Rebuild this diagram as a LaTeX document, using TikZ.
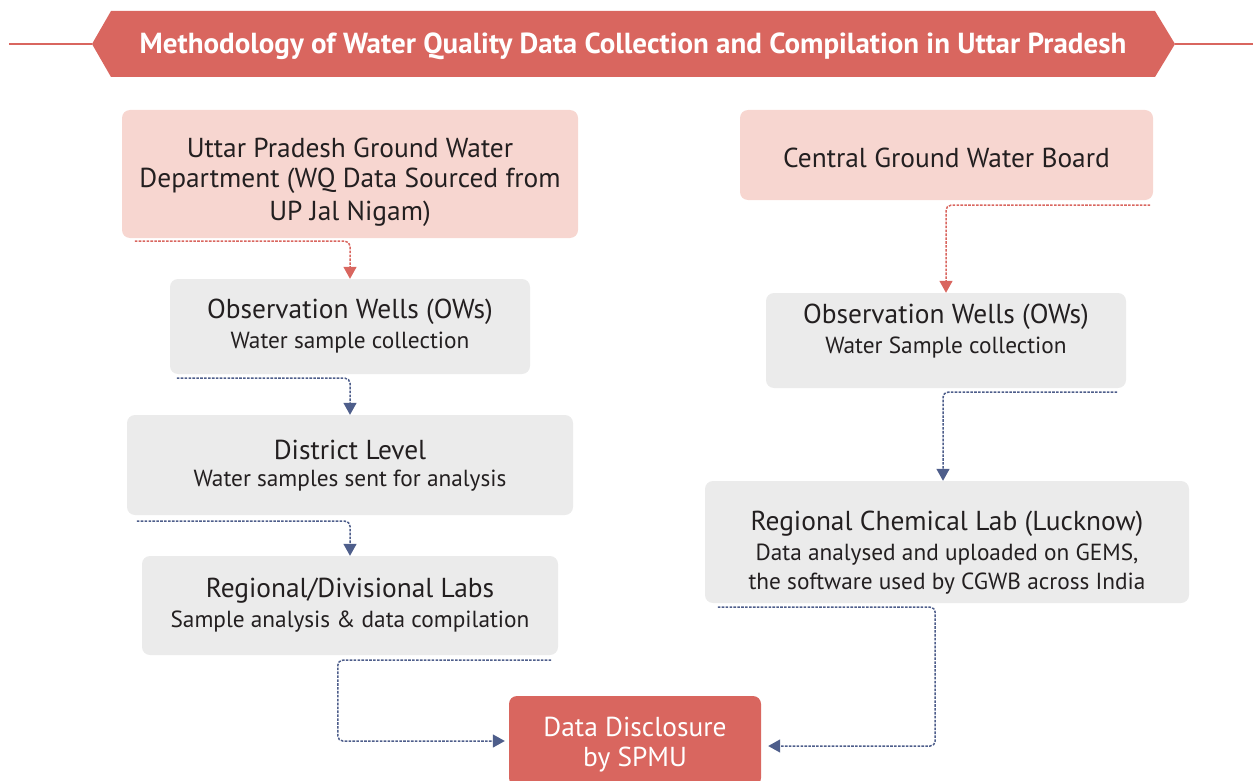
\documentclass[tikz,border=0pt]{standalone}
\usepackage{fontspec}
\setmainfont{PT Sans}
\usetikzlibrary{arrows.meta,calc}
\definecolor{redc}{HTML}{D9665F}
\definecolor{pinkc}{HTML}{F7D6D0}
\definecolor{grayc}{HTML}{EBEBEB}
\definecolor{bluec}{HTML}{4E5E8B}
\definecolor{txtc}{HTML}{231F20}
\tikzset{
  box/.style={rounded corners=8pt, inner sep=0pt},
  pinkbox/.style={box, fill=pinkc},
  graybox/.style={box, fill=grayc},
  big/.style={text=txtc, font=\fontsize{27.4}{32}\selectfont, inner sep=0pt, yshift=-2pt},
  small/.style={text=txtc, font=\fontsize{23.3}{27}\selectfont, inner sep=0pt, yshift=-2pt},
  conn/.style={line width=1.5pt, dash pattern=on 2.6pt off 1.3pt, rounded corners=5pt},
  redconn/.style={conn, draw=redc, -{Triangle[width=13pt,length=12pt,fill=redc]}},
  blueconn/.style={conn, draw=bluec, -{Triangle[width=13pt,length=12pt,fill=bluec]}},
}
\begin{document}
\begin{tikzpicture}[x=1pt,y=-1pt]
\useasboundingbox (0,0) rectangle (1253,781);
% banner
\draw[redc, line width=2pt] (9,44) -- (92,44);
\draw[redc, line width=2pt] (1175,44) -- (1253,44);
\fill[redc] (111,11) -- (1155,11) -- (1175,44) -- (1155,77) -- (111,77) -- (92,44) -- cycle;
\node[text=white, font=\bfseries\fontsize{29}{32}\selectfont, inner sep=0pt] (title) at (633,46)
  {Methodology of Water Quality Data Collection and Compilation in Uttar Pradesh};
% boxes
\node[pinkbox, minimum width=456pt, minimum height=128pt] (ug) at (350,174) {};
\node[big] (ugt1) at (350,146) {Uttar Pradesh Ground Water};
\node[big] (ugt2) at (350,179) {Department (WQ Data Sourced from};
\node[big] (ugt3) at (350,212) {UP Jal Nigam)};

\node[graybox, minimum width=360pt, minimum height=95pt] (ow1) at (350,326.5) {};
\node[big] (ow1t) at (350,310) {Observation Wells (OWs)};
\node[small] (ow1s) at (350,341) {Water sample collection};

\node[graybox, minimum width=446pt, minimum height=100pt] (dl) at (350,465) {};
\node[big] (dlt) at (350,448) {District Level};
\node[small] (dls) at (350,479) {Water samples sent for analysis};

\node[graybox, minimum width=416pt, minimum height=99pt] (rl) at (350,605.5) {};
\node[big] (rlt) at (350,589) {Regional/Divisional Labs};
\node[small] (rls) at (350,620) {Sample analysis \& data compilation};

\node[pinkbox, minimum width=413pt, minimum height=90pt] (cg) at (946.5,155) {};
\node[big] (cgt) at (946.5,156) {Central Ground Water Board};

\node[graybox, minimum width=360pt, minimum height=95pt] (ow2) at (946,340.5) {};
\node[big] (ow2t) at (946,315) {Observation Wells (OWs)};
\node[small] (ow2s) at (946,346) {Water Sample collection};

\node[graybox, minimum width=484pt, minimum height=122pt] (rc) at (947,542) {};
\node[big] (rct) at (947,522) {Regional Chemical Lab (Lucknow)};
\node[small] (rcs1) at (947,553) {Data analysed and uploaded on GEMS,};
\node[small] (rcs2) at (947,582) {the software used by CGWB across India};

\node[box, fill=redc, minimum width=252pt, minimum height=90pt] (dd) at (635,741) {};
\node[big, text=white] (ddt1) at (635,725) {Data Disclosure};
\node[big, text=white] (ddt2) at (635,758) {by SPMU};

% connectors
\draw[redconn] ($(ug.south west)+(13,3)$) -| (ow1.north);
\draw[blueconn] ($(ow1.south west)+(7,4)$) -| (dl.north);
\draw[blueconn] ($(dl.south west)+(10,6)$) -| (rl.north);
\draw[blueconn] ($(rl.south east)+(-7,5)$) -| ($(dd.west)+(-171,0)$) -- ($(dd.west)+(-4,0)$);
\draw[redconn] ($(cg.south east)+(-3,5)$) -| (ow2.north);
\draw[blueconn] ($(ow2.south east)+(-9,4)$) -| ($(rc.north)+(-4,0)$);
\draw[blueconn] ($(rc.south west)+(13,4)$) -| ($(dd.east)+(174,5)$) -- ($(dd.east)+(7,5)$);
\end{tikzpicture}
\end{document}
